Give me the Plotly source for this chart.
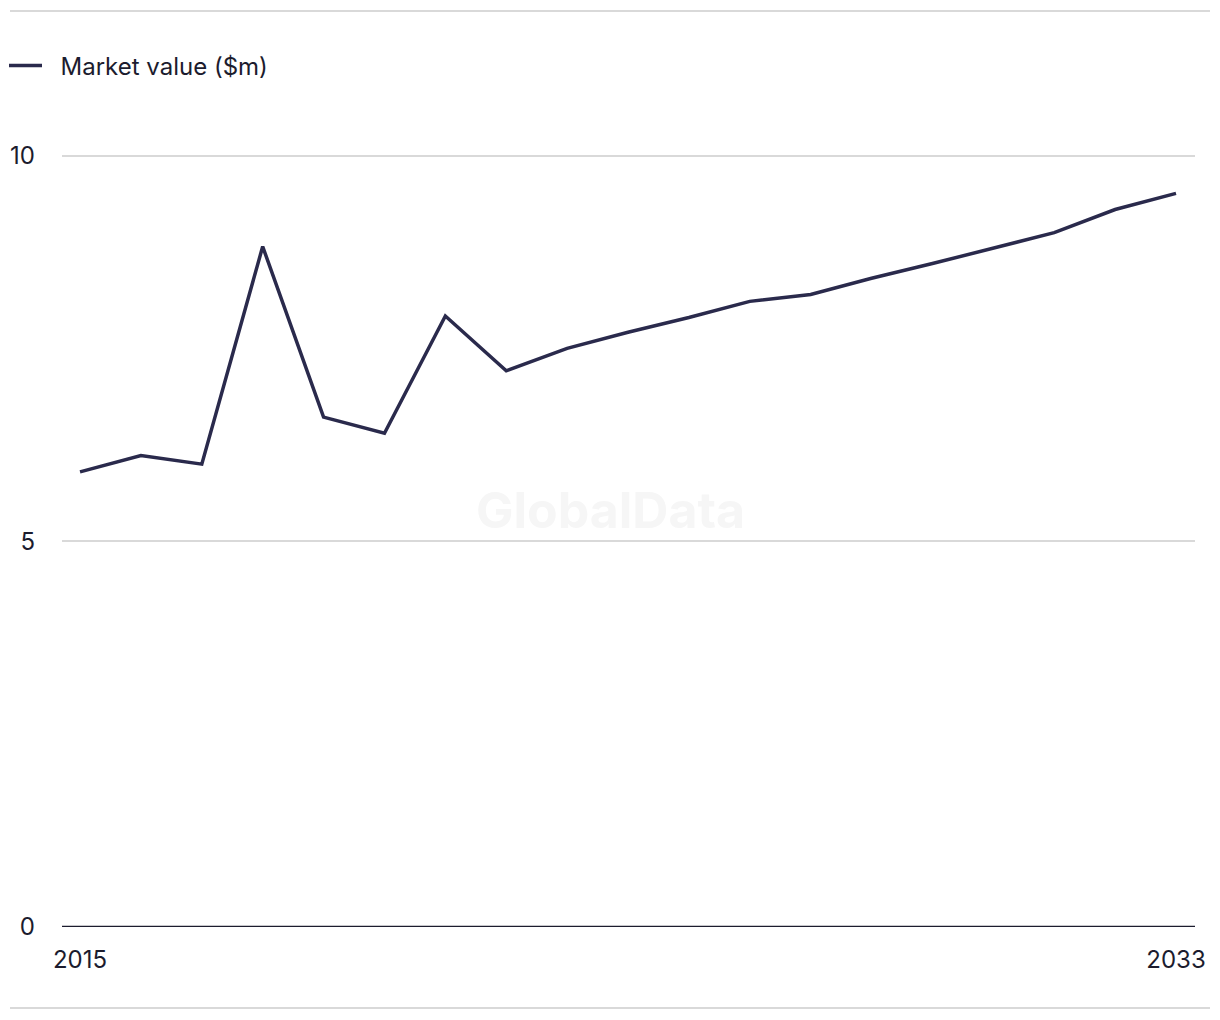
import plotly.graph_objects as go

years = list(range(2015, 2034))
market_value = [5.90, 6.11, 6.00, 8.82, 6.61, 6.40, 7.92, 7.21, 7.50, 7.71, 7.90,
                8.11, 8.20, 8.41, 8.60, 8.80, 9.00, 9.30, 9.51]
series_name = "Market value ($m)"
y_ticks = [0, 5, 10]
x_ticks = [2015, 2033]

LINE = "#2a2a4c"
TEXT = "#1c1c2e"
GRID = "#d9d9d9"
FONT = "Inter, Roboto, sans-serif"

# page body has an 8px default margin; figure coordinates below are page coords minus 8
W, H = 1212, 1012
L, R, T, B = 54, 25, 146, 93
PW, PH = W - L - R, H - T - B

fig = go.Figure()
fig.add_trace(go.Scatter(x=years, y=market_value, mode="lines",
                         name="\u00a0\u00a0" + series_name,
                         line=dict(color=LINE, width=3.5), hoverinfo="x+y"))

fig.update_layout(
    width=W, height=H,
    margin=dict(l=L, r=R, t=T, b=B, autoexpand=False),
    paper_bgcolor="white", plot_bgcolor="white",
    font=dict(family=FONT, size=24, color=TEXT),
    showlegend=True,
    legend=dict(x=(-4 - L) / PW, y=1 + (T - 58) / PH, xanchor="left", yanchor="middle",
                xref="paper", yref="paper",
                orientation="h", font=dict(size=24, color=TEXT), itemwidth=33,
                bgcolor="rgba(0,0,0,0)", traceorder="normal"),
    xaxis=dict(range=[2014.704, 2033.312], tickvals=x_ticks, ticktext=[str(v) for v in x_ticks],
               showgrid=False, zeroline=False, showline=False, ticks="", automargin=False,
               ticklabelstandoff=16, tickfont=dict(size=24, color=TEXT)),
    yaxis=dict(range=[0, 10.02], tickvals=y_ticks, showgrid=True, gridcolor=GRID, gridwidth=1.5,
               zeroline=False, showline=False, ticks="", ticklabelstandoff=26, automargin=False,
               tickfont=dict(size=24, color=TEXT)),
    annotations=[dict(text="<b>GlobalData</b>", x=0.5, y=0.5, xref="paper", yref="paper",
                      showarrow=False, font=dict(size=50, color="#f6f6f6", family=FONT),
                      xshift=-18, yshift=31)],
    shapes=[
        dict(type="line", xref="paper", yref="y", x0=0, x1=1, y0=0, y1=0,
             line=dict(color=TEXT, width=2.5), layer="above"),
        dict(type="line", xref="paper", yref="paper", x0=(2 - L) / PW, x1=(1202 - L) / PW,
             y0=1 + (T - 3) / PH, y1=1 + (T - 3) / PH, line=dict(color=GRID, width=2)),
        dict(type="line", xref="paper", yref="paper", x0=(2 - L) / PW, x1=(1202 - L) / PW,
             y0=-(1000 - (H - B)) / PH, y1=-(1000 - (H - B)) / PH, line=dict(color=GRID, width=2)),
    ],
)

fig.write_html("out.html")
